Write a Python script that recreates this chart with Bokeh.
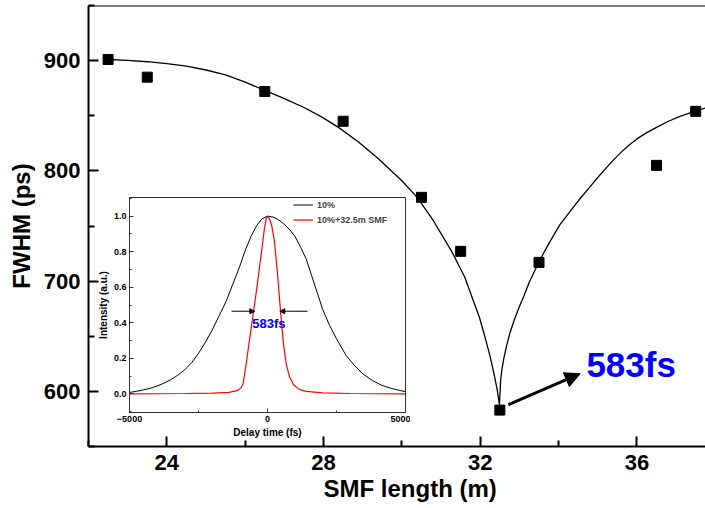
from bokeh.plotting import figure
from bokeh.models import (Range1d, FixedTicker, Span, Arrow, NormalHead, Label, Title,
                          Legend, LegendItem, PrintfTickFormatter)
from bokeh.embed import file_html
from bokeh.resources import INLINE

FONT = "Liberation Sans"

# ---------------- main data ----------------
smf_length = [22.5, 23.5, 26.5, 28.5, 30.5, 31.5, 32.5, 33.5, 36.5, 37.5]
fwhm_ps = [901, 885, 872, 845, 776, 727, 583, 717, 805, 854]

fit_x = [22.5, 23.0, 23.5, 24.0, 24.5, 25.0, 25.5, 26.0, 26.5, 27.0, 27.5, 27.95, 28.4,
         28.9, 29.4, 30.0, 30.39, 30.8, 31.27, 31.6, 31.98, 32.1, 32.25, 32.35, 32.43,
         32.49,
         32.52, 32.55, 32.6, 32.67, 32.75, 32.87, 33.0, 33.12, 33.25, 33.52, 33.75, 34.03,
         34.3, 34.54, 34.8, 35.0, 35.2, 35.39, 35.6, 35.8, 36.0, 36.24, 36.5, 36.8, 37.1,
         37.43, 37.75]
fit_y = [901, 900.3, 899, 897.3, 895, 891.5, 887, 880.5, 873, 865.5, 857.5, 849, 839,
         826, 811, 791, 776, 755, 727, 704, 667, 652, 632, 616, 602,
         588,
         610, 619, 629.5, 641, 652, 665, 677, 687, 699, 719, 734, 751,
         763.5, 774.5, 785.5, 794, 802, 809.5, 817, 823.5, 829, 834.5, 839.5, 845, 849.5,
         853.5, 857]

x_ticks = [24, 28, 32, 36]
x_minor = [22, 26, 30, 34, 38]
y_ticks = [600, 700, 800, 900]
y_minor = [550, 650, 750, 850, 950]

# ---------------- inset data ----------------
delay_black = [-5000, -4750, -4500, -4250, -4000, -3750, -3500, -3250, -3000, -2750, -2500,
               -2250, -2000, -1750, -1500, -1250, -1000, -800, -600, -400, -200, 0,
               200, 400, 600, 800, 1000, 1200, 1400, 1600, 1800, 2000, 2250, 2500, 2850,
               3150, 3450, 3800, 4150, 4500, 5000]
int_black = [0.008, 0.014, 0.022, 0.031, 0.044, 0.06, 0.08, 0.105, 0.135, 0.175, 0.228,
             0.29, 0.36, 0.44, 0.52, 0.62, 0.72, 0.81, 0.885, 0.945, 0.985, 1.0,
             0.995, 0.98, 0.955, 0.925, 0.885, 0.825, 0.76, 0.665, 0.57, 0.475, 0.385,
             0.31, 0.215, 0.16, 0.113, 0.075, 0.047, 0.03, 0.012]

delay_red = [-5000, -3000, -2000, -1400, -1100, -950, -880, -800, -700, -600, -500, -400,
             -300, -200, -120, -50, 0, 60, 150, 250, 360, 480, 580, 680, 800, 950, 1150,
             1400, 2000, 3000, 5000]
int_red = [0.0, 0.002, 0.004, 0.008, 0.018, 0.035, 0.06, 0.14, 0.25, 0.36, 0.47, 0.58,
           0.70, 0.82, 0.92, 0.985, 1.0, 0.99, 0.95, 0.86, 0.68, 0.45, 0.28, 0.165, 0.095,
           0.05, 0.025, 0.014, 0.005, 0.002, 0.0]

inset_x_ticks = [-5000, 0, 5000]
inset_x_minor = [-2500, 2500]
inset_y_ticks = [0.0, 0.2, 0.4, 0.6, 0.8, 1.0]
inset_y_minor = [-0.1, 0.1, 0.3, 0.5, 0.7, 0.9, 1.1]

# annotation anchors
main_arrow = (32.72, 588, 34.55, 616)
main_note = (34.71, 624, "583fs")
inset_arrow_left = (-1300, 0.465, -460, 0.465)
inset_arrow_right = (1450, 0.465, 446, 0.465)
inset_note = (50, 0.396, "583fs")

# ---------------- main figure ----------------
p = figure(width=705, height=508, output_backend="svg", toolbar_location=None,
           x_range=Range1d(22, 37.75), y_range=Range1d(550, 950),
           min_border_left=88, min_border_right=0, min_border_top=5, min_border_bottom=62)
p.xgrid.visible = False
p.ygrid.visible = False
p.outline_line_color = None
p.background_fill_color = "white"
p.border_fill_color = "white"

p.xaxis.ticker = FixedTicker(ticks=x_ticks, minor_ticks=x_minor)
p.yaxis.ticker = FixedTicker(ticks=y_ticks, minor_ticks=y_minor)
for ax in (p.xaxis[0], p.yaxis[0]):
    ax.axis_line_width = 2
    ax.axis_line_color = "black"
    ax.major_tick_line_width = 2
    ax.minor_tick_line_width = 2
    ax.major_tick_in = 10
    ax.major_tick_out = 0
    ax.minor_tick_in = 6
    ax.minor_tick_out = 0
    ax.major_label_text_font = FONT
    ax.major_label_text_font_style = "bold"
    ax.major_label_text_font_size = "22px"
    ax.major_label_text_color = "black"
    ax.major_label_standoff = 8

p.yaxis.axis_label = "FWHM (ps)"
p.yaxis.axis_label_text_font = FONT
p.yaxis.axis_label_text_font_style = "bold"
p.yaxis.axis_label_text_font_size = "24px"
p.yaxis.axis_label_text_color = "black"
p.yaxis.axis_label_standoff = 6

p.add_layout(Title(text="SMF length (m)", align="left", offset=235, standoff=0,
                   text_font=FONT, text_font_style="bold", text_font_size="24px",
                   text_color="black"), "below")

p.add_layout(Span(location=950, dimension="width", line_color="black", line_width=2))

p.line(fit_x, fit_y, line_color="black", line_width=1.3)
p.scatter(smf_length, fwhm_ps, marker="square", size=10, color="black")

p.add_layout(Arrow(end=NormalHead(size=15, fill_color="black", line_color="black"),
                   x_start=main_arrow[0], y_start=main_arrow[1],
                   x_end=main_arrow[2], y_end=main_arrow[3],
                   line_width=3, line_color="black"))
p.add_layout(Label(x=main_note[0], y=main_note[1], text=main_note[2], text_color="#0000ff",
                   text_font=FONT, text_font_style="bold", text_font_size="35px",
                   text_baseline="middle"))

# ---------------- inset figure ----------------
inset = figure(width=316, height=252, output_backend="svg", toolbar_location=None,
               x_range=Range1d(-5000, 5000), y_range=Range1d(-0.105, 1.105),
               min_border_left=35, min_border_right=5, min_border_top=7, min_border_bottom=30,
               styles={"position": "absolute", "left": "94px", "top": "190px"})
inset.xgrid.visible = False
inset.ygrid.visible = False
inset.border_fill_color = None
inset.background_fill_color = "white"
inset.outline_line_color = "#333333"
inset.outline_line_width = 1

inset.xaxis.ticker = FixedTicker(ticks=inset_x_ticks, minor_ticks=inset_x_minor)
inset.yaxis.ticker = FixedTicker(ticks=inset_y_ticks, minor_ticks=inset_y_minor)
inset.yaxis.formatter = PrintfTickFormatter(format="%.1f")
for ax in (inset.xaxis[0], inset.yaxis[0]):
    ax.axis_line_width = 1
    ax.axis_line_color = "#333333"
    ax.major_tick_line_color = "#333333"
    ax.minor_tick_line_color = "#333333"
    ax.major_tick_in = 4
    ax.major_tick_out = 0
    ax.minor_tick_in = 2
    ax.minor_tick_out = 0
    ax.major_label_text_font = FONT
    ax.major_label_text_font_style = "bold"
    ax.major_label_text_font_size = "9px"
    ax.major_label_text_color = "black"
    ax.major_label_standoff = 3
    ax.axis_label_text_font = FONT
    ax.axis_label_text_font_style = "bold"
    ax.axis_label_text_font_size = "10px"
    ax.axis_label_text_color = "black"
    ax.axis_label_standoff = 2
inset.xaxis.axis_label = "Delay time (fs)"
inset.yaxis.axis_label = "Intensity (a.u.)"

r_black = inset.line(delay_black, int_black, line_color="black", line_width=1)
r_red = inset.line(delay_red, int_red, line_color="#ff0000", line_width=1.2)

legend = Legend(items=[LegendItem(label="10%", renderers=[r_black]),
                       LegendItem(label="10%+32.5m SMF", renderers=[r_red])],
                location=(164, 186), background_fill_alpha=0, border_line_color=None,
                label_text_font=FONT, label_text_font_style="bold", label_text_font_size="9px",
                glyph_width=20, glyph_height=13, label_height=13, spacing=2, padding=0,
                margin=0, label_standoff=4)
inset.add_layout(legend)

for a in (inset_arrow_left, inset_arrow_right):
    inset.add_layout(Arrow(end=NormalHead(size=5, fill_color="black", line_color="black"),
                           x_start=a[0], y_start=a[1], x_end=a[2], y_end=a[3],
                           line_width=1, line_color="black"))
inset.add_layout(Label(x=inset_note[0], y=inset_note[1], text=inset_note[2],
                       text_color="#0000ff", text_font=FONT, text_font_style="bold",
                       text_font_size="13px", text_align="center", text_baseline="middle"))

open("out.html", "w").write(file_html([p, inset], INLINE))
